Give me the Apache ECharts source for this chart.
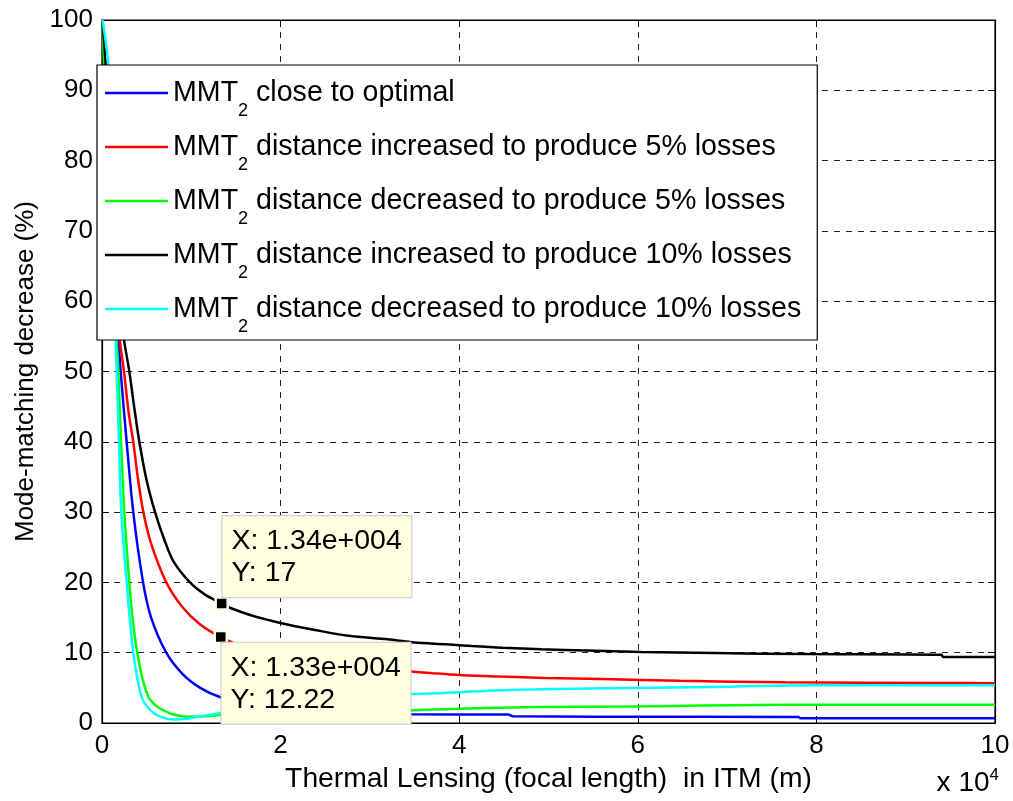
<!DOCTYPE html>
<html>
<head>
<meta charset="utf-8">
<script src="https://cdn.jsdelivr.net/npm/echarts@6/dist/echarts.min.js"></script>
<style>
html,body{margin:0;padding:0;background:#fff;}
#chart{width:1013px;height:801px;}
</style>
</head>
<body>
<div id="chart"></div>
<script>
// x values in units of 10^4 m, y values in %
var blueX  = [0.005,0.05,0.1,0.15,0.183,0.209,0.276,0.35,0.46,0.55,0.72,0.9,1.1,1.32,1.7,2.2,2.8,3.45,4.55,4.6,5.5,7.8,7.82,10];
var blueY  = [100,88,73,60,54.5,50,40,30,20,15,10,7,5,3.7,2.6,1.9,1.5,1.24,1.2,0.95,0.9,0.85,0.67,0.67];
var redX   = [0.005,0.05,0.1,0.15,0.2,0.246,0.3,0.35,0.4,0.463,0.55,0.72,0.9,1.1,1.33,1.6,2.0,2.5,3.0,3.4,3.71,4.04,4.46,4.96,5.61,6.47,7.65,9.4,10];
var redY   = [100,90,76,64,54.5,50,44,40,35,30,25.5,20,16.5,14,12.22,10.8,9.6,8.6,7.9,7.4,7.07,6.8,6.6,6.4,6.25,6.0,5.8,5.7,5.65];
var greenX = [0.005,0.05,0.1,0.164,0.183,0.213,0.25,0.306,0.35,0.396,0.45,0.52,0.6,0.68,0.8,0.95,1.15,1.32,1.8,2.5,3.4,3.9,4.74,5.91,7.65,10];
var greenY = [100,85,70,54.5,50,40,30,20,14,10,6.5,3.7,2.5,1.85,1.2,0.9,0.95,1.14,1.3,1.5,1.75,2.0,2.23,2.35,2.6,2.6];
var blackX = [0.005,0.05,0.1,0.15,0.2,0.246,0.306,0.36,0.418,0.5,0.594,0.7,0.8,0.985,1.15,1.34,1.41,1.7,2.01,2.4,2.76,3.2,3.5,3.86,4.14,4.49,4.92,5.43,6.04,6.86,7.9,9.4,9.42,10];
var blackY = [100,92,80,68,59,54.5,50,45,40,34.5,30,26,23,20,18.3,17,16.5,15.2,14.2,13.2,12.4,11.9,11.45,11.2,10.95,10.7,10.5,10.3,10.1,9.95,9.8,9.7,9.39,9.39];
var cyanX  = [0.005,0.07,0.12,0.153,0.164,0.19,0.216,0.276,0.35,0.444,0.54,0.65,0.8,0.95,1.1,1.32,1.8,2.5,3.4,3.86,4.32,4.92,5.65,6.64,8.0,10];
var cyanY  = [100,93.6,70,54.5,50,40,30,20,10,3.7,1.85,0.9,0.5,0.6,0.95,1.38,2.3,3.3,4.05,4.3,4.6,4.8,4.95,5.1,5.36,5.36];

var seriesNames = [
  'MMT2 close to optimal',
  'MMT2 distance increased to produce 5% losses',
  'MMT2 distance decreased to produce 5% losses',
  'MMT2 distance increased to produce 10% losses',
  'MMT2 distance decreased to produce 10% losses'
];
var seriesColors = ['#0000FF','#FF0000','#00FF00','#000000','#00FFFF'];
var seriesX = [blueX, redX, greenX, blackX, cyanX];
var seriesY = [blueY, redY, greenY, blackY, cyanY];

// data tips
var tipX = [1.34, 1.33];
var tipY = [17, 12.22];
var tipText = [['X: 1.34e+004','Y: 17'],['X: 1.33e+004','Y: 12.22']];

var xTickInterval = 2;
var yTickInterval = 10;

function pairs(xs, ys){ var out=[]; for(var i=0;i<xs.length;i++) out.push([xs[i], ys[i]]); return out; }

var chart = echarts.init(document.getElementById('chart'), null, {renderer:'canvas'});
var FONT = 'Liberation Sans, Arial, Helvetica, sans-serif';

var series = [];
for (var i=0;i<5;i++){
  series.push({
    type:'line', name: seriesNames[i], data: pairs(seriesX[i], seriesY[i]),
    symbol:'none', showSymbol:false, smooth:0.3,
    lineStyle:{color: seriesColors[i], width:2.5},
    itemStyle:{color: seriesColors[i]},
    z: 3 + i, animation:false
  });
}
function tipSeries(k, pos){
  return {
    type:'scatter', name:'tip'+k, data:[[tipX[k], tipY[k]]],
    symbol:'rect', symbolSize:12,
    itemStyle:{color:'#000', borderColor:'#FFFFE1', borderWidth:2.5, opacity:1},
    label:{show:true, position:pos, formatter: tipText[k].join('\n'),
      fontFamily:FONT, fontSize:28.5, lineHeight:32, color:'#000', opacity:1,
      backgroundColor:'#FFFFE1', borderColor:'#C8C8C8', borderWidth:1,
      padding:[9,9,8,9], width:171, align:'left', verticalAlign:'top'},
    emphasis:{disabled:true},
    z: 20, animation:false, silent:true
  };
}
series.push(tipSeries(0,[8,-80]));
series.push(tipSeries(1,[8,13]));

var axisLabelStyle = {color:'#000', fontFamily:FONT, fontSize:26};
var option = {
  animation:false,
  backgroundColor:'#fff',
  grid:{left:102, right:18, top:20, bottom:78, show:true, borderColor:'#000', borderWidth:1.2, backgroundColor:'transparent'},
  xAxis:[{
    type:'value', min:0, max:10, interval:xTickInterval, position:'bottom',
    axisLine:{show:true, onZero:false, lineStyle:{color:'#000', width:1.2}},
    axisTick:{show:true, inside:true, length:7, lineStyle:{color:'#000'}},
    axisLabel:Object.assign({margin:10}, axisLabelStyle),
    splitLine:{show:true, lineStyle:{color:'#222', type:[6,6], width:1}},
    name:'Thermal Lensing (focal length)  in ITM (m)', nameLocation:'middle', nameGap:42,
    nameTextStyle:{color:'#000', fontFamily:FONT, fontSize:28.3}
  },{
    type:'value', min:0, max:10, interval:xTickInterval, position:'top',
    axisLine:{show:true, onZero:false, lineStyle:{color:'#000', width:1.2}},
    axisTick:{show:true, inside:true, length:7, lineStyle:{color:'#000'}},
    axisLabel:{show:false}, splitLine:{show:false}
  }],
  yAxis:[{
    type:'value', min:0, max:100, interval:yTickInterval, position:'left',
    axisLine:{show:true, onZero:false, lineStyle:{color:'#000', width:1.2}},
    axisTick:{show:true, inside:true, length:7, lineStyle:{color:'#000'}},
    axisLabel:Object.assign({margin:9}, axisLabelStyle),
    splitLine:{show:true, lineStyle:{color:'#222', type:[6,6], width:1}},
    name:'Mode-matching decrease (%)', nameLocation:'middle', nameGap:62, nameRotate:90,
    nameTextStyle:{color:'#000', fontFamily:FONT, fontSize:26}
  },{
    type:'value', min:0, max:100, interval:yTickInterval, position:'right',
    axisLine:{show:true, onZero:false, lineStyle:{color:'#000', width:1.2}},
    axisTick:{show:true, inside:true, length:7, lineStyle:{color:'#000'}},
    axisLabel:{show:false}, splitLine:{show:false}
  }],
  legend:{
    data: seriesNames, orient:'vertical', left:97, top:65, z:30,
    backgroundColor:'#fff', borderColor:'#000', borderWidth:1.2,
    padding:[1,16,4,8], itemWidth:63, itemHeight:14, itemGap:0,
    icon:'path://M0,6 L63,6 L63,8.5 L0,8.5 Z',
    selectedMode:false,
    formatter:function(name){ return '{m|MMT}{s|2}{m|' + name.slice(4) + '}'; },
    textStyle:{color:'#000', fontFamily:FONT, fontSize:28.6,
      rich:{
        m:{fontFamily:FONT, fontSize:28.6, lineHeight:50, verticalAlign:'middle', color:'#000'},
        s:{fontFamily:FONT, fontSize:18, lineHeight:14, padding:[36,0,0,0], verticalAlign:'middle', color:'#000'}
      }
    }
  },
  graphic:[{
    type:'text', right:14, top:767, z:30,
    style:{text:'{a|x 10}{p|4}', fill:'#000',
      rich:{a:{fontFamily:FONT, fontSize:28, lineHeight:30, verticalAlign:'bottom'}, p:{fontFamily:FONT, fontSize:17, lineHeight:18, verticalAlign:'top'}}}
  }],
  series: series
};
chart.setOption(option);
</script>
</body>
</html>
